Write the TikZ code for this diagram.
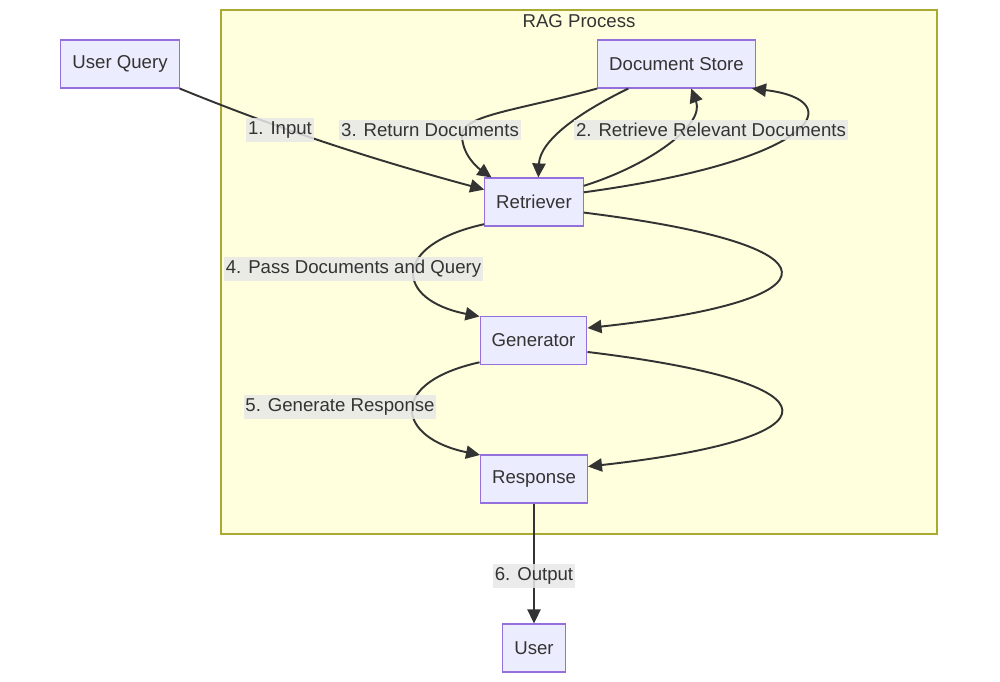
\documentclass[tikz,border=0pt]{standalone}
\usepackage{fontspec}
\setmainfont{Liberation Sans}
\usetikzlibrary{arrows.meta}
\definecolor{nodefill}{HTML}{ECECFF}
\definecolor{nodeline}{HTML}{9370DB}
\definecolor{clusterfill}{HTML}{FFFFDE}
\definecolor{clusterline}{HTML}{AAAA33}
\definecolor{ink}{HTML}{333333}
\definecolor{labelfill}{HTML}{E8E8E8}
\begin{document}
\begin{tikzpicture}[x=0.02cm, y=-0.02cm, font=\fontsize{10.6pt}{13pt}\selectfont, text=ink,
  main node/.style={rectangle,draw=nodeline,fill=nodefill,line width=0.6pt,minimum height=0.96cm,inner xsep=0.23cm},
  edge label/.style={fill=labelfill,fill opacity=0.85,text opacity=1,inner xsep=1pt,inner ysep=2pt},
  flow/.style={draw=ink,line width=1.1pt,-{Triangle[length=8pt,width=7.5pt]}}]%
\useasboundingbox (0,0) rectangle (1000,682);
\draw[fill=clusterfill,draw=clusterline,line width=0.6pt] (221,10) rectangle (937,534);
\node (title) at (579,21) {RAG Process};
\begin{scope}[every node/.style={main node}]
\node (query) at (120,64) {User Query};
\node (store) at (676.5,64) {Document Store};
\node (retriever) at (534,202) {Retriever};
\node (generator) at (533.5,340.5) {Generator};
\node (response) at (534,479) {Response};
\node (user) at (534,648) {User};
\end{scope}
\begin{scope}[every path/.style={flow}]
\draw (query.south east) .. controls (240,113) and (330,148) .. (retriever.166);
\draw (retriever.18) .. controls (650,165) and (705,125) .. (store.301);
\draw (retriever.11) .. controls (820,160) and (850,100) .. (store.342);
\draw (store.south west) .. controls (520,110) and (462,115) .. (462,135) .. controls (462,155) and (478,168) .. (retriever.150);
\draw (store.207) .. controls (580,112) and (540,140) .. (retriever.80);
\draw (retriever.204) .. controls (390,245) and (395,300) .. (generator.156);
\draw (retriever.348) .. controls (845,245) and (845,300) .. (generator.13);
\draw (generator.202) .. controls (386,383) and (397,438) .. (response.156);
\draw (generator.348) .. controls (845,383) and (845,438) .. (response.13);
\draw (response) -- (user);
\end{scope}
\begin{scope}[every node/.style={edge label}]
\node (input) at (280,130) {1. Input};
\node (fetch) at (711,130) {2. Retrieve Relevant Documents};
\node (return) at (430,130) {3. Return Documents};
\node (pass) at (353.5,269) {4. Pass Documents and Query};
\node (generate) at (340,407) {5. Generate Response};
\node (output) at (534,576) {6. Output};
\end{scope}
\end{tikzpicture}
\end{document}
